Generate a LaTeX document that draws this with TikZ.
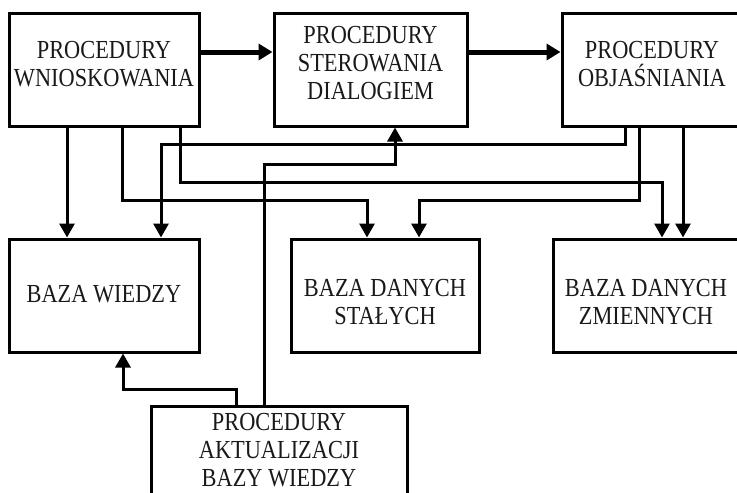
\documentclass[tikz,border=0pt]{standalone}
\usepackage{fontspec}
\setmainfont[FakeStretch=0.86]{Liberation Serif}
\usetikzlibrary{arrows.meta}
\begin{document}
\begin{tikzpicture}[x=1pt,y=-1pt,
  box/.style={draw, line width=3pt, rectangle, inner sep=0pt,
    minimum height=113pt, line join=miter},
  lbl/.style={align=center, inner sep=0pt, text=black!90,
    font=\fontsize{26}{28}\selectfont},
  arr/.style={line width=3pt, line join=miter, -{Triangle[width=15pt,length=14pt]}},
  thickarr/.style={line width=5pt, -{Triangle[width=16pt,length=14pt]}}]
\useasboundingbox (0,0) rectangle (737,493);
\node[box, minimum width=190pt, label={[lbl,yshift=5pt]center:PROCEDURY\\WNIOSKOWANIA}] (b1) at (104,69.5) {};
\node[box, minimum width=193pt, label={[lbl,yshift=6pt]center:PROCEDURY\\STEROWANIA\\DIALOGIEM}] (b2) at (370.5,69.5) {};
\node[box, minimum width=180pt, label={[lbl,yshift=5pt]center:PROCEDURY\\OBJAŚNIANIA}] (b3) at (652,69.5) {};
\node[box, minimum width=190pt, label={[lbl,yshift=1pt]center:BAZA WIEDZY}] (bw) at (104,295.5) {};
\node[box, minimum width=188pt, label={[lbl,yshift=-7pt]center:BAZA DANYCH\\STAŁYCH}] (bds) at (385,295.5) {};
\node[box, minimum width=186pt, label={[lbl,yshift=-7pt]center:BAZA DANYCH\\ZMIENNYCH}] (bdz) at (646,295.5) {};
\node[box, minimum width=256pt, minimum height=88pt, label={[lbl,yshift=0pt]center:PROCEDURY\\AKTUALIZACJI\\BAZY WIEDZY}] (bot) at (279,450) {};
% top arrows
\draw[thickarr] (b1.east |- 0,52) -- (b2.west |- 0,52);
\draw[thickarr] (b2.east |- 0,52) -- (b3.west |- 0,52);
% from b1
\draw[arr] (b1.south -| 67,0) -- (bw.north -| 67,0);
\draw[arr] (b1.south -| 122,0) -- (122,200) -- (367,200) -- (bds.north -| 367,0);
\draw[arr] (b1.south -| 180,0) -- (180,182) -- (662,182) -- (bdz.north -| 662,0);
% from b3
\draw[arr] (b3.south -| 625,0) -- (625,144) -- (161,144) -- (bw.north -| 161,0);
\draw[arr] (b3.south -| 639,0) -- (639,200) -- (419,200) -- (bds.north -| 419,0);
\draw[arr] (b3.south -| 683,0) -- (bdz.north -| 683,0);
% from bottom box
\draw[arr] (bot.north -| 264,0) -- (264,164) -- (395,164) -- (b2.south -| 395,0);
\draw[arr] (bot.north -| 236,0) -- (236,389) -- (123,389) -- (bw.south -| 123,0);
\end{tikzpicture}
\end{document}
